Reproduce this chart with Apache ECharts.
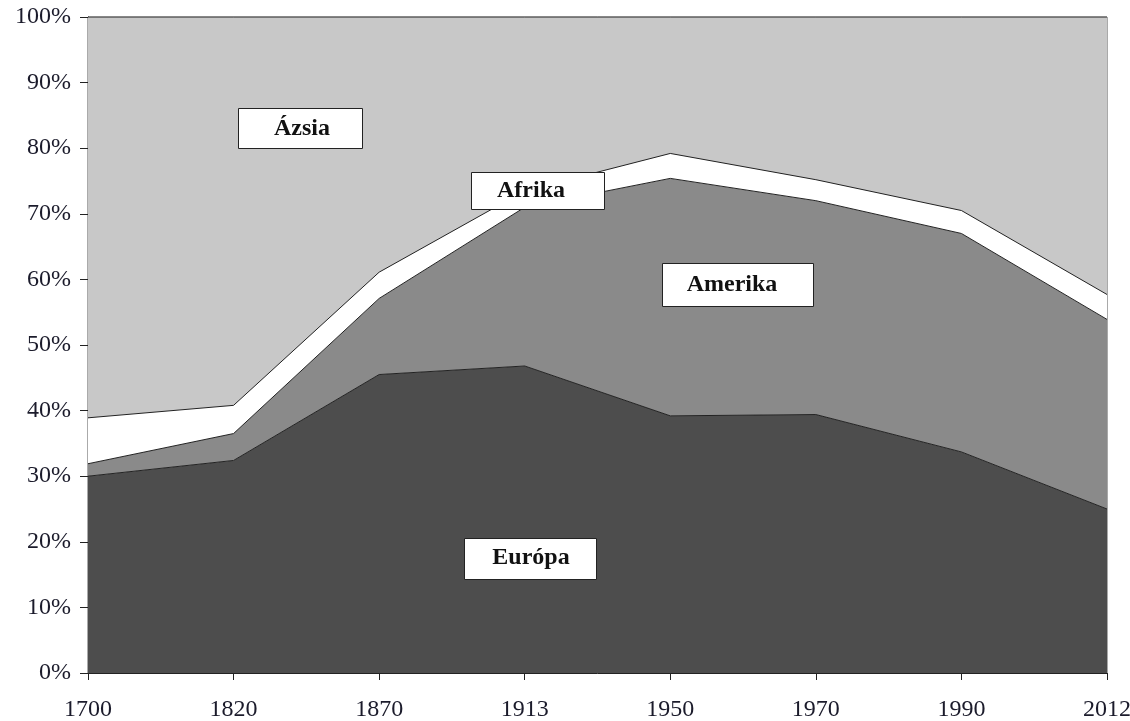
<!DOCTYPE html>
<html>
<head>
<meta charset="utf-8">
<script src="https://cdn.jsdelivr.net/npm/echarts@6/dist/echarts.min.js"></script>
<style>
html,body{margin:0;padding:0;background:#fff;}
#chart{width:1130px;height:721px;}
</style>
</head>
<body>
<div id="chart"></div>
<script>
const years = ['1700','1820','1870','1913','1950','1970','1990','2012'];
const europa  = [30.0, 32.4, 45.5, 46.8, 39.2, 39.4, 33.7, 25.0];
const amerika = [1.9, 4.1, 11.6, 24.2, 36.2, 32.6, 33.3, 28.9];
const afrika  = [7.0, 4.3, 4.0, 2.5, 3.8, 3.2, 3.5, 3.8];
const azsia   = [61.1, 59.2, 38.9, 26.5, 20.8, 24.8, 29.5, 42.3];
const yTicks = [0,10,20,30,40,50,60,70,80,90,100];

const FONT = "'Liberation Serif', 'DejaVu Serif', serif";
const chart = echarts.init(document.getElementById('chart'));

function series(name, data, color) {
  return {
    name: name, type: 'line', stack: 'total', data: data,
    showSymbol: false, symbol: 'none', smooth: false,
    lineStyle: { color: '#222', width: 1 },
    areaStyle: { color: color, opacity: 1 },
    emphasis: { disabled: true },
    animation: false
  };
}

function boxRect(cx, cy, w, h) {
  return { type: 'rect', z: 100, silent: true,
    shape: { x: Math.round(cx - w / 2) + 0.5, y: Math.round(cy - h / 2) + 0.5, width: w, height: h },
    style: { fill: '#ffffff', stroke: '#222222', lineWidth: 1 } };
}
function boxText(cx, cy, text) {
  return { type: 'text', z: 101, silent: true, x: cx, y: cy,
    style: { text: text, fontFamily: FONT, fontWeight: 'bold', fontSize: 24, fill: '#111111',
             align: 'center', verticalAlign: 'middle' } };
}

chart.setOption({
  animation: false,
  backgroundColor: '#fff',
  grid: { left: 88, right: 23, top: 17, bottom: 48, show: true, outerBoundsMode: 'none',
          borderColor: '#555', borderWidth: 1, backgroundColor: 'transparent' },
  xAxis: {
    type: 'category', data: years, boundaryGap: false,
    axisLine: { lineStyle: { color: '#222', width: 1 } },
    axisTick: { show: true, alignWithLabel: true, length: 7, lineStyle: { color: '#222' } },
    axisLabel: { fontFamily: FONT, fontSize: 24, color: '#1b1b2b', margin: 25 },
    splitLine: { show: false }
  },
  yAxis: {
    type: 'value', min: 0, max: 100, interval: 10,
    axisLine: { show: true, lineStyle: { color: '#222', width: 1 } },
    axisTick: { show: true, length: 8, lineStyle: { color: '#222' } },
    axisLabel: { fontFamily: FONT, fontSize: 24, color: '#1b1b2b', margin: 17,
                 formatter: function (v) { return yTicks.indexOf(v) >= 0 ? v + '%' : ''; } },
    splitLine: { show: false }
  },
  series: [
    series('Európa', europa, '#4d4d4d'),
    series('Amerika', amerika, '#8a8a8a'),
    series('Afrika', afrika, '#ffffff'),
    series('Ázsia', azsia, '#c8c8c8')
  ],
  graphic: { elements: [
    boxRect(300, 128, 124, 40), boxText(302, 129, 'Ázsia'),
    boxRect(537.5, 190.5, 133, 37), boxText(531, 191, 'Afrika'),
    boxRect(737.5, 284.5, 151, 43), boxText(732, 285, 'Amerika'),
    boxRect(530, 558.5, 132, 41), boxText(531, 558, 'Európa')
  ] }
});
</script>
</body>
</html>
